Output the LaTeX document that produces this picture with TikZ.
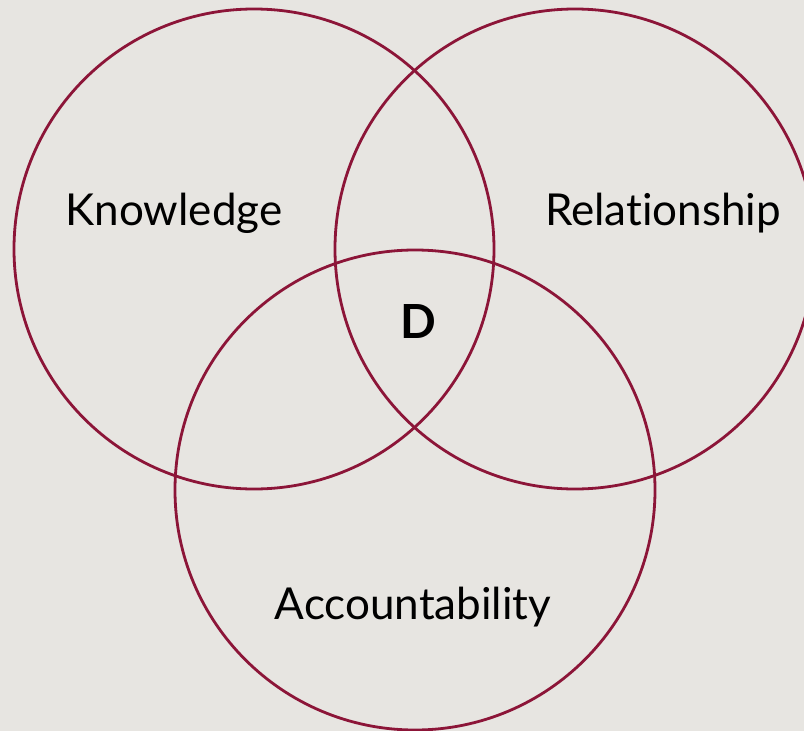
\documentclass[tikz,border=0pt]{standalone}
\usepackage{fontspec}
\setmainfont{Lato}[Ligatures=CommonOff]
\definecolor{bg}{RGB}{231,229,225}
\definecolor{ring}{RGB}{140,21,56}
\begin{document}
\begin{tikzpicture}[x=1pt,y=-1pt,
  ring/.style={draw=ring,line width=2.8pt},
  lbl/.style={font=\fontsize{44}{52}\selectfont,text=black,inner sep=0pt}]
\fill[bg] (0,0) rectangle (804,731);
\useasboundingbox (0,0) rectangle (804,731);
\begin{scope}
\clip (0,0) rectangle (804,731);
\draw[ring] (254,249) circle[radius=240];
\draw[ring] (575,249) circle[radius=240];
\draw[ring] (415,490) circle[radius=240];
\end{scope}
\node[lbl] (k) at (174,213) {Knowledge};
\node[lbl] (r) at (663,213) {Relationship};
\node[lbl,font=\fontsize{47}{54}\selectfont\bfseries] (d) at (418,322) {D};
\node[lbl] (a) at (413,607) {Accountability};
\end{tikzpicture}
\end{document}
